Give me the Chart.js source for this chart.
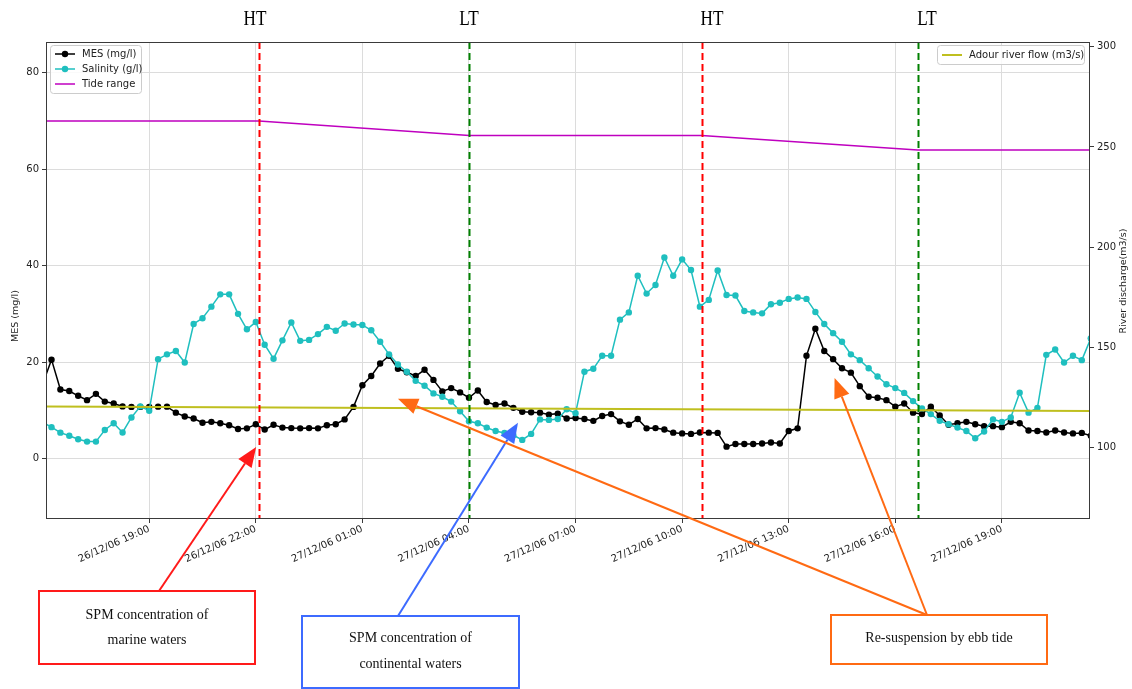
<!DOCTYPE html>
<html>
<head>
<meta charset="utf-8">
<script src="https://cdn.jsdelivr.net/npm/chart.js@4.4.0/dist/chart.umd.min.js"></script>
<style>
  html, body { margin: 0; padding: 0; background: #fff; }
  #wrap { position: relative; width: 1132px; height: 689px; }
</style>
</head>
<body>
<div id="wrap"><canvas id="chart" width="1132" height="689"></canvas></div>
<script>
// time is in hours from 26/12/06 00:00
const START_H = 16;   // first sample 26/12/06 16:00
const STEP_H = 0.25;  // one sample every 15 min

const mes = [
  15.4, 20.5, 14.3, 14.0, 13.0, 12.1, 13.4, 11.8, 11.4, 10.8, 10.7, 10.7,
  10.7, 10.75, 10.75, 9.5, 8.7, 8.3, 7.4, 7.6, 7.3, 6.9, 6.1, 6.25,
  7.1, 6.0, 7.0, 6.4, 6.3, 6.25, 6.3, 6.25, 6.9, 7.1, 8.1, 10.7,
  15.2, 17.1, 19.7, 21.3, 18.6, 17.9, 17.1, 18.4, 16.3, 13.9, 14.6, 13.7,
  12.6, 14.1, 11.7, 11.1, 11.4, 10.5, 9.7, 9.6, 9.5, 9.1, 9.3, 8.3,
  8.4, 8.2, 7.8, 8.8, 9.2, 7.7, 7.0, 8.2, 6.25, 6.3, 6.0, 5.35,
  5.2, 5.1, 5.4, 5.35, 5.3, 2.45, 3.0, 3.0, 3.0, 3.1, 3.3, 3.1,
  5.7, 6.25, 21.3, 26.9, 22.3, 20.6, 18.7, 17.8, 15.0, 12.8, 12.6, 12.1,
  10.75, 11.4, 9.5, 9.2, 10.75, 8.9, 7.0, 7.3, 7.6, 7.1, 6.7, 6.7,
  6.5, 7.6, 7.3, 5.8, 5.7, 5.4, 5.8, 5.4, 5.2, 5.3, 4.7
];

const salinity = [
  7.5, 6.5, 5.35, 4.7, 4.0, 3.5, 3.5, 5.9, 7.3, 5.4, 8.5, 10.8,
  9.9, 20.6, 21.6, 22.3, 19.9, 27.9, 29.1, 31.5, 34.05, 34.05, 30.0, 26.8,
  28.3, 23.6, 20.7, 24.5, 28.2, 24.4, 24.6, 25.8, 27.3, 26.5, 28.0, 27.8,
  27.7, 26.6, 24.2, 21.6, 19.5, 18.0, 16.1, 15.1, 13.5, 12.8, 11.8, 9.8,
  7.7, 7.3, 6.4, 5.7, 5.3, 4.8, 3.85, 5.1, 8.1, 8.0, 8.2, 10.2,
  9.4, 18.0, 18.6, 21.3, 21.3, 28.8, 30.3, 37.9, 34.2, 36.0, 41.7, 37.9,
  41.3, 39.1, 31.5, 32.9, 39.0, 33.9, 33.8, 30.6, 30.3, 30.1, 32.0, 32.3,
  33.1, 33.4, 33.1, 30.4, 27.9, 26.0, 24.2, 21.6, 20.4, 18.7, 17.0, 15.4,
  14.6, 13.6, 11.9, 10.4, 9.2, 7.8, 7.1, 6.4, 5.7, 4.2, 5.6, 8.1,
  7.6, 8.5, 13.65, 9.5, 10.5, 21.5, 22.6, 19.9, 21.3, 20.4, 24.9
];

const tideTimes = [16, 22.09, 28.01, 34.55, 40.63, 45.5];
const tideRange = [70, 70, 67, 67, 64, 64];

const flowTimes = [16, 45.5];
const flowValues = [120.5, 118.2];

const highTides = [22.09, 34.55];
const lowTides = [28.01, 40.63];

const xTicks = [19, 22, 25, 28, 31, 34, 37, 40, 43];
const leftTicks = [0, 20, 40, 60, 80];
const rightTicks = [100, 150, 200, 250, 300];

const series = arr => arr.map((v, i) => ({ x: START_H + i * STEP_H, y: v }));
const pairs = (xs, ys) => xs.map((t, i) => ({ x: t, y: ys[i] }));

function timeLabel(h) {
  const day = 26 + Math.floor(h / 24);
  const hour = String(Math.round(h % 24)).padStart(2, "0");
  return `${day}/12/06 ${hour}:00`;
}

const CYAN = "#1fbfbf";
const MAGENTA = "#bf00bf";
const OLIVE = "#bfbf1f";
const GRID = "#dcdcdc";
const SPINE = "#3a3a3a";

// annotation boxes (page layout) and where their arrows point (data units)
const notes = [
  { color: "#ff1a1a", box: [39, 591, 216, 73], lines: ["SPM concentration of", "marine waters"], textY: [615, 640],
    tails: [[159, 591]], tips: [[22.01, 2.4]] },
  { color: "#3d6bff", box: [302, 616, 217, 72], lines: ["SPM concentration of", "continental waters"], textY: [638, 664],
    tails: [[398, 616]], tips: [[29.38, 7.4]] },
  { color: "#ff6a13", box: [831, 615, 216, 49], lines: ["Re-suspension by ebb tide"], textY: [638],
    tails: [[927, 615], [927, 615]], tips: [[26.0, 12.4], [38.29, 16.7]] },
];

function arrow(ctx, x0, y0, x1, y1, color) {
  const ang = Math.atan2(y1 - y0, x1 - x0);
  const len = 20, half = 8;
  const bx = x1 - len * Math.cos(ang), by = y1 - len * Math.sin(ang);
  ctx.strokeStyle = color; ctx.fillStyle = color; ctx.lineWidth = 2;
  ctx.beginPath(); ctx.moveTo(x0, y0); ctx.lineTo(bx, by); ctx.stroke();
  ctx.beginPath();
  ctx.moveTo(x1, y1);
  ctx.lineTo(bx + half * Math.sin(ang), by - half * Math.cos(ang));
  ctx.lineTo(bx - half * Math.sin(ang), by + half * Math.cos(ang));
  ctx.closePath(); ctx.fill();
}

function legendBox(ctx, x, y, w, h) {
  ctx.fillStyle = "rgba(255,255,255,0.85)";
  ctx.strokeStyle = "#cccccc"; ctx.lineWidth = 1;
  ctx.beginPath(); ctx.roundRect(x + 0.5, y + 0.5, w, h, 3); ctx.fill(); ctx.stroke();
}

function legendItem(ctx, x, y, color, label, marker, width) {
  ctx.strokeStyle = color; ctx.lineWidth = width;
  ctx.beginPath(); ctx.moveTo(x, y); ctx.lineTo(x + 20, y); ctx.stroke();
  if (marker) {
    ctx.fillStyle = color;
    ctx.beginPath(); ctx.arc(x + 10, y, 3.2, 0, Math.PI * 2); ctx.fill();
  }
  ctx.fillStyle = "#222"; ctx.font = "10px 'DejaVu Sans'";
  ctx.textAlign = "left"; ctx.textBaseline = "middle";
  ctx.fillText(label, x + 27, y + 0.5);
}

const overlay = {
  id: "overlay",
  afterDatasetsDraw(chart) {
    const { ctx, chartArea: a, scales: { x } } = chart;
    ctx.save();
    ctx.beginPath(); ctx.rect(a.left, a.top, a.right - a.left, a.bottom - a.top); ctx.clip();
    ctx.lineWidth = 2; ctx.setLineDash([7, 4]);
    const vline = (t, c) => {
      const px = Math.round(x.getPixelForValue(t)) + 0.5;
      ctx.strokeStyle = c;
      ctx.beginPath(); ctx.moveTo(px, a.top); ctx.lineTo(px, a.bottom); ctx.stroke();
    };
    highTides.forEach(t => vline(t, "#ff0000"));
    lowTides.forEach(t => vline(t, "#008000"));
    ctx.restore();
  },
  afterDraw(chart) {
    const { ctx, chartArea: a, scales: { x, y } } = chart;
    ctx.save();
    // frame
    ctx.strokeStyle = SPINE; ctx.lineWidth = 1;
    ctx.strokeRect(a.left + 0.5, a.top + 0.5, a.right - a.left - 1, a.bottom - a.top - 1);

    // legends
    legendBox(ctx, 50, 45, 91, 48);
    legendItem(ctx, 55, 54, "#000", "MES (mg/l)", true, 1.5);
    legendItem(ctx, 55, 69, CYAN, "Salinity (g/l)", true, 1.5);
    legendItem(ctx, 55, 84, MAGENTA, "Tide range", false, 1.5);
    legendBox(ctx, 937, 45, 147, 19);
    legendItem(ctx, 942, 55, OLIVE, "Adour river flow (m3/s)", false, 2);

    // axis titles
    ctx.fillStyle = "#222"; ctx.font = "9.5px 'DejaVu Sans'";
    ctx.textAlign = "center"; ctx.textBaseline = "middle";
    ctx.save(); ctx.translate(16, 316); ctx.rotate(-Math.PI / 2); ctx.fillText("MES (mg/l)", 0, 0); ctx.restore();
    ctx.save(); ctx.translate(1124, 281); ctx.rotate(-Math.PI / 2); ctx.fillText("River discharge(m3/s)", 0, 0); ctx.restore();

    // HT / LT labels
    ctx.fillStyle = "#000"; ctx.font = "22px 'Liberation Serif'";
    [["HT", 255], ["LT", 469], ["HT", 712], ["LT", 927]].forEach(([t, cx]) => {
      ctx.save(); ctx.translate(cx, 19); ctx.scale(0.78, 1); ctx.fillText(t, 0, 0); ctx.restore();
    });

    // annotation boxes and arrows
    notes.forEach(n => {
      const [bx, by, bw, bh] = n.box;
      ctx.strokeStyle = n.color; ctx.lineWidth = 2;
      ctx.strokeRect(bx, by, bw, bh);
      ctx.fillStyle = "#111"; ctx.font = "14px 'Liberation Serif'";
      ctx.textAlign = "center"; ctx.textBaseline = "middle";
      n.lines.forEach((s, i) => ctx.fillText(s, bx + bw / 2, n.textY[i]));
      n.tips.forEach((tp, i) => {
        const [tx, ty] = n.tails[i];
        arrow(ctx, tx, ty, x.getPixelForValue(tp[0]), y.getPixelForValue(tp[1]), n.color);
      });
    });
    ctx.restore();
  }
};

const tickFont = { family: "DejaVu Sans", size: 10 };

new Chart(document.getElementById("chart"), {
  type: "line",
  data: {
    datasets: [
      { label: "Adour river flow (m3/s)", data: pairs(flowTimes, flowValues), yAxisID: "yR",
        borderColor: OLIVE, borderWidth: 2, pointRadius: 0, order: 0 },
      { label: "Salinity (g/l)", data: series(salinity), yAxisID: "y",
        borderColor: CYAN, backgroundColor: CYAN, borderWidth: 1.5,
        pointRadius: 3.2, pointBorderWidth: 0, pointBackgroundColor: CYAN, order: 1 },
      { label: "MES (mg/l)", data: series(mes), yAxisID: "y",
        borderColor: "#000", backgroundColor: "#000", borderWidth: 1.5,
        pointRadius: 3.2, pointBorderWidth: 0, pointBackgroundColor: "#000", order: 2 },
      { label: "Tide range", data: pairs(tideTimes, tideRange), yAxisID: "y",
        borderColor: MAGENTA, borderWidth: 1.5, pointRadius: 0, order: 3 },
    ]
  },
  options: {
    responsive: false,
    animation: false,
    events: [],
    clip: 0,
    layout: { padding: { top: 42, left: 0, right: 0, bottom: 0 } },
    elements: { line: { tension: 0 } },
    plugins: { legend: { display: false }, tooltip: { enabled: false } },
    scales: {
      x: {
        type: "linear", min: 16.095, max: 45.48,
        afterBuildTicks: s => { s.ticks = xTicks.map(v => ({ value: v })); },
        afterFit: s => { s.height = 170; s.paddingLeft = 0; s.paddingRight = 0; },
        ticks: { autoSkip: false, maxRotation: 24, minRotation: 24, padding: 0,
          color: "#222", font: tickFont, callback: v => timeLabel(v) },
        grid: { color: GRID, tickColor: SPINE, tickLength: 4 },
        border: { display: false }
      },
      y: {
        position: "left", min: -12.56, max: 86.4,
        afterBuildTicks: s => { s.ticks = leftTicks.map(v => ({ value: v })); },
        afterFit: s => { s.width = 46; },
        ticks: { padding: 3, color: "#222", font: tickFont },
        grid: { color: GRID, tickColor: SPINE, tickLength: 4 },
        border: { display: false }
      },
      yR: {
        position: "right", min: 64.3, max: 302.4,
        afterBuildTicks: s => { s.ticks = rightTicks.map(v => ({ value: v })); },
        afterFit: s => { s.width = 42; },
        ticks: { padding: 3, color: "#222", font: tickFont },
        grid: { drawOnChartArea: false, tickColor: SPINE, tickLength: 4 },
        border: { display: false }
      }
    }
  },
  plugins: [overlay]
});
</script>
</body>
</html>
